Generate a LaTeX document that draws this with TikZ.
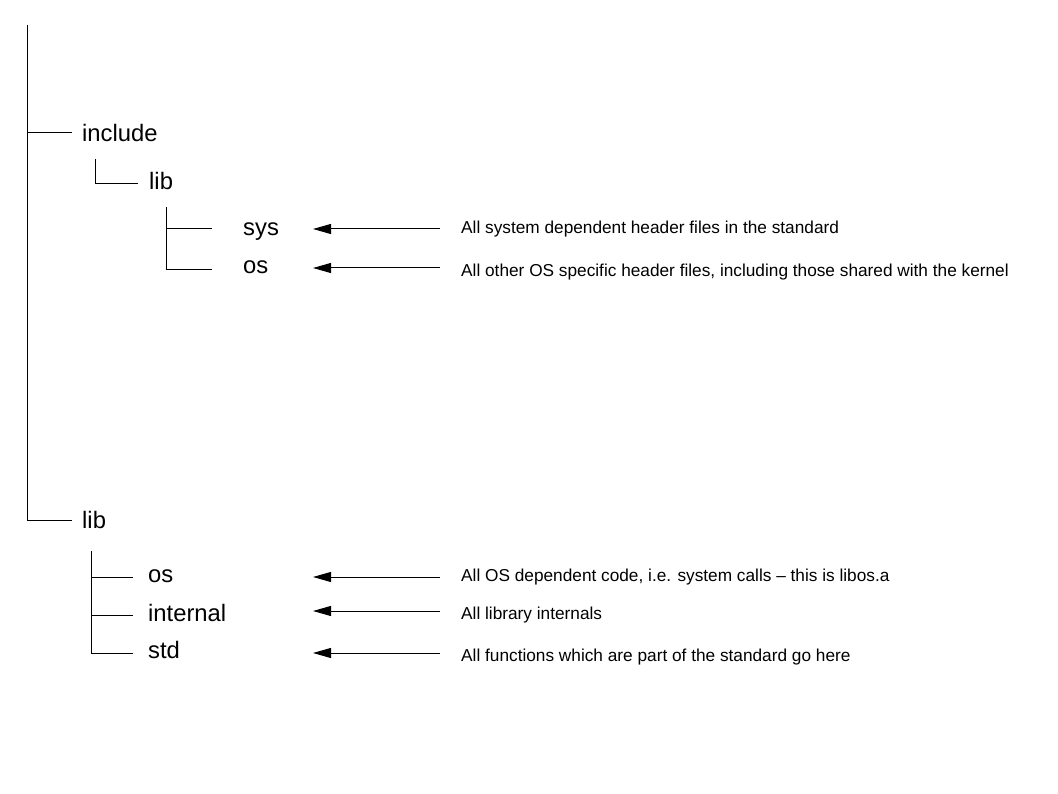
\documentclass[tikz,border=0pt]{standalone}
\usepackage{fontspec}
\setmainfont{Liberation Sans}
\usetikzlibrary{arrows.meta}
\begin{document}
\begin{tikzpicture}[x=1pt,y=-1pt,
  dir/.style={anchor=base west,inner sep=0pt,font=\fontsize{23.8}{28}\selectfont},
  desc/.style={anchor=base west,inner sep=0pt,font=\fontsize{17.25}{20}\selectfont},
  tree/.style={line width=1pt},
  arr/.style={line width=1pt,-{Triangle[length=18pt,width=10pt]}}]
\useasboundingbox (0,0) rectangle (1058,794);
% tree
\coordinate (top) at (27,25);
\node[dir] (include) at (82,141.7) {include};
\node[dir] (ilib) at (149,190) {lib};
\node[dir] (sys) at (243,236) {sys};
\node[dir] (ios) at (243,273.5) {os};
\node[dir] (mlib) at (82,528.3) {lib};
\node[dir] (los) at (148,582.5) {os};
\node[dir] (lint) at (148,621.5) {internal};
\node[dir] (lstd) at (148,658.5) {std};
\coordinate (c1) at (95,159);
\coordinate (c2) at (166,207);
\coordinate (c3) at (91,551);
\draw[tree] (top) |- ([xshift=-10pt]mlib.west |- 0,520);
\draw[tree] (top |- 0,133) -- ([xshift=-10pt]include.west |- 0,133);
\draw[tree] (c1) |- ([xshift=-11pt]ilib.west |- 0,183.5);
\draw[tree] (c2) |- ([xshift=-31pt]ios.west |- 0,270);
\draw[tree] (c2 |- 0,229) -- ([xshift=-31pt]sys.west |- 0,229);
\draw[tree] (c3) |- ([xshift=-15pt]lstd.west |- 0,653);
\draw[tree] (c3 |- 0,577) -- ([xshift=-15pt]los.west |- 0,577);
\draw[tree] (c3 |- 0,615) -- ([xshift=-15pt]lint.west |- 0,615);
% descriptions
\node[desc] (d1) at (461,233.3) {All system dependent header files in the standard};
\node[desc] (d2) at (461,276.7) {All other OS specific header files, including those shared with the kernel};
\node[desc] (d3) at (461,581.7) {All OS dependent code, i.e. system calls – this is libos.a};
\node[desc] (d4) at (461,619.3) {All library internals};
\node[desc] (d5) at (461,661) {All functions which are part of the standard go here};
\coordinate (tipx) at (313,0);
\draw[arr] ([xshift=-21pt]d1.west |- 0,229) -- (tipx |- 0,229);
\draw[arr] ([xshift=-21pt]d2.west |- 0,268) -- (tipx |- 0,268);
\draw[arr] ([xshift=-21pt]d3.west |- 0,577) -- (tipx |- 0,577);
\draw[arr] ([xshift=-21pt]d4.west |- 0,611) -- (tipx |- 0,611);
\draw[arr] ([xshift=-21pt]d5.west |- 0,653) -- (tipx |- 0,653);
\end{tikzpicture}
\end{document}
